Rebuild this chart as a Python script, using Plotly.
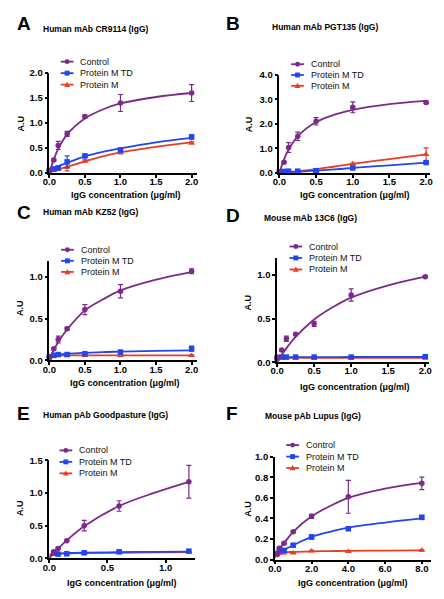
import plotly.graph_objects as go

W, H = 444, 599

# ---------------- data ----------------
# Panel A: Human mAb CR9114 (IgG)
x_A = [0, 0.0625, 0.125, 0.25, 0.5, 1.0, 2.0]
ctrl_A = [0.05, 0.26, 0.55, 0.78, 1.13, 1.40, 1.60]
ctrl_err_A = [0.02, 0.02, 0.08, 0.05, 0.03, 0.17, 0.17]
td_A = [0.05, 0.08, 0.10, 0.22, 0.34, 0.46, 0.72]
td_err_A = [0.01, 0.01, 0.02, 0.12, 0.03, 0.03, 0.04]
m_A = [0.04, 0.05, 0.07, 0.12, 0.24, 0.41, 0.60]
m_err_A = [0.01, 0.01, 0.01, 0.08, 0.02, 0.03, 0.02]
fit_x_A = [0, 0.0625, 0.125, 0.25, 0.5, 0.75, 1.0, 1.5, 2.0]
fit_ctrl_A = [0.0, 0.27, 0.48, 0.77, 1.09, 1.27, 1.39, 1.52, 1.60]
fit_td_A = [0.05, 0.09, 0.13, 0.20, 0.33, 0.42, 0.49, 0.61, 0.70]
fit_m_A = [0.03, 0.05, 0.07, 0.12, 0.23, 0.33, 0.41, 0.52, 0.61]

# Panel B: Human mAb PGT135 (IgG)
x_B = [0, 0.0625, 0.125, 0.25, 0.5, 1.0, 2.0]
ctrl_B = [0.05, 0.43, 1.03, 1.49, 2.10, 2.67, 2.87]
ctrl_err_B = [0.02, 0.03, 0.20, 0.17, 0.15, 0.22, 0.05]
td_B = [0.05, 0.06, 0.07, 0.07, 0.09, 0.20, 0.42]
td_err_B = [0.01, 0.01, 0.01, 0.01, 0.01, 0.02, 0.03]
m_B = [0.03, 0.03, 0.04, 0.05, 0.08, 0.37, 0.75]
m_err_B = [0.01, 0.01, 0.01, 0.01, 0.01, 0.03, 0.27]
fit_x_B = [0, 0.0625, 0.125, 0.25, 0.5, 0.75, 1.0, 1.5, 2.0]
fit_ctrl_B = [0.0, 0.55, 0.95, 1.49, 2.07, 2.37, 2.57, 2.80, 2.93]
fit_td_B = [0.03, 0.035, 0.04, 0.05, 0.09, 0.14, 0.20, 0.31, 0.42]
fit_m_B = [0.02, 0.03, 0.04, 0.07, 0.15, 0.26, 0.37, 0.56, 0.75]

# Panel C: Human mAb KZ52 (IgG)
x_C = [0, 0.0625, 0.125, 0.25, 0.5, 1.0, 2.0]
ctrl_C = [0.04, 0.14, 0.25, 0.38, 0.61, 0.83, 1.07]
ctrl_err_C = [0.01, 0.01, 0.04, 0.02, 0.06, 0.08, 0.03]
td_C = [0.04, 0.06, 0.07, 0.07, 0.08, 0.10, 0.14]
td_err_C = [0.01, 0.01, 0.01, 0.01, 0.01, 0.01, 0.03]
m_C = [0.05, 0.06, 0.06, 0.06, 0.06, 0.06, 0.06]
m_err_C = [0.005, 0.005, 0.005, 0.005, 0.005, 0.005, 0.005]
fit_x_C = [0, 0.0625, 0.125, 0.25, 0.5, 0.75, 1.0, 1.5, 2.0]
fit_ctrl_C = [0.02, 0.12, 0.22, 0.37, 0.60, 0.73, 0.84, 0.97, 1.06]
fit_td_C = [0.03, 0.05, 0.065, 0.08, 0.09, 0.10, 0.105, 0.115, 0.12]
fit_m_C = [0.055, 0.06, 0.06, 0.06, 0.06, 0.06, 0.06, 0.06, 0.06]

# Panel D: Mouse mAb 13C6 (IgG)
x_D = [0, 0.0625, 0.125, 0.25, 0.5, 1.0, 2.0]
ctrl_D = [0.06, 0.14, 0.27, 0.32, 0.44, 0.77, 0.98]
ctrl_err_D = [0.01, 0.01, 0.03, 0.01, 0.03, 0.07, 0.01]
td_D = [0.05, 0.06, 0.06, 0.06, 0.06, 0.06, 0.065]
td_err_D = [0.005, 0.005, 0.005, 0.005, 0.005, 0.005, 0.01]
m_D = [0.05, 0.05, 0.05, 0.05, 0.05, 0.05, 0.05]
m_err_D = [0.005, 0.005, 0.005, 0.005, 0.005, 0.005, 0.005]
fit_x_D = [0, 0.0625, 0.125, 0.25, 0.5, 0.75, 1.0, 1.5, 2.0]
fit_ctrl_D = [0.0, 0.085, 0.16, 0.29, 0.49, 0.63, 0.74, 0.88, 0.98]
fit_td_D = [0.05, 0.055, 0.058, 0.06, 0.06, 0.06, 0.061, 0.062, 0.063]
fit_m_D = [0.05, 0.05, 0.05, 0.05, 0.05, 0.05, 0.05, 0.05, 0.05]

# Panel E: Human pAb Goodpasture (IgG)
x_E = [0.0375, 0.075, 0.15, 0.3, 0.6, 1.2]
ctrl_E = [0.10, 0.15, 0.27, 0.50, 0.80, 1.17]
ctrl_err_E = [0.02, 0.01, 0.01, 0.08, 0.08, 0.25]
td_E = [0.08, 0.065, 0.07, 0.085, 0.10, 0.11]
td_err_E = [0.02, 0.01, 0.01, 0.01, 0.01, 0.02]
m_E = [0.07, 0.07, 0.075, 0.08, 0.09, 0.10]
m_err_E = [0.005, 0.005, 0.005, 0.005, 0.005, 0.005]
fit_x_E = [0, 0.0375, 0.075, 0.15, 0.3, 0.6, 0.9, 1.2]
fit_ctrl_E = [0.0, 0.08, 0.15, 0.275, 0.49, 0.80, 1.00, 1.17]
fit_td_E = [0.03, 0.065, 0.075, 0.082, 0.088, 0.095, 0.10, 0.102]
fit_m_E = [0.06, 0.065, 0.07, 0.075, 0.08, 0.085, 0.09, 0.095]

# Panel F: Mouse pAb Lupus (IgG)
x_F = [0.125, 0.25, 0.5, 1, 2, 4, 8]
ctrl_F = [0.05, 0.11, 0.16, 0.27, 0.42, 0.61, 0.74]
ctrl_err_F = [0.01, 0.01, 0.01, 0.01, 0.02, 0.16, 0.06]
td_F = [0.06, 0.10, 0.09, 0.14, 0.22, 0.30, 0.41]
td_err_F = [0.01, 0.01, 0.01, 0.01, 0.02, 0.01, 0.02]
m_F = [0.06, 0.06, 0.065, 0.065, 0.085, 0.08, 0.09]
m_err_F = [0.005, 0.005, 0.005, 0.005, 0.005, 0.005, 0.005]
fit_x_F = [0, 0.25, 0.5, 1, 2, 3, 4, 6, 8]
fit_ctrl_F = [0.02, 0.10, 0.16, 0.27, 0.42, 0.52, 0.60, 0.69, 0.745]
fit_td_F = [0.04, 0.07, 0.095, 0.14, 0.22, 0.27, 0.31, 0.36, 0.40]
fit_m_F = [0.05, 0.06, 0.07, 0.075, 0.08, 0.083, 0.085, 0.088, 0.09]

series_names = ["Control", "Protein M TD", "Protein M"]
panel_letters = ["A", "B", "C", "D", "E", "F"]
panel_titles = ["Human mAb CR9114 (IgG)", "Human mAb PGT135 (IgG)",
                "Human mAb KZ52 (IgG)", "Mouse mAb 13C6 (IgG)",
                "Human pAb Goodpasture (IgG)", "Mouse pAb Lupus (IgG)"]
x_title = "IgG concentration (\u03bcg/ml)"
y_title = "A.U"

# ---------------- styling ----------------
C_CTRL = "#7B2A8A"
C_TD = "#1F46F0"
C_M = "#EB3B24"
ARIAL = "Liberation Sans, Arial, sans-serif"

panels = [
    dict(x=x_A, s=[(ctrl_A, ctrl_err_A), (td_A, td_err_A), (m_A, m_err_A)],
         fx=fit_x_A, fs=[fit_ctrl_A, fit_td_A, fit_m_A],
         dom_x=(43.3, 194.7), dom_y=(68.3, 170), xr=[0, 2.08], yr=[0, 2.0],
         xt=[0, 0.5, 1.0, 1.5, 2.0], yt=[0, 0.5, 1.0, 1.5, 2.0],
         letter=(8, 18), title=(35, 23), leg=(73, 56.7, 11.7),
         xtit=(121.7, 193), ytit=(14, 120)),
    dict(x=x_B, s=[(ctrl_B, ctrl_err_B), (td_B, td_err_B), (m_B, m_err_B)],
         fx=fit_x_B, fs=[fit_ctrl_B, fit_td_B, fit_m_B],
         dom_x=(278.7, 432.5), dom_y=(70, 170), xr=[0, 2.05], yr=[0, 4.0],
         xt=[0, 0.5, 1.0, 1.5, 2.0], yt=[0, 1, 2, 3, 4],
         letter=(222, 18), title=(269, 21), leg=(308.7, 59.3, 11),
         xtit=(356, 193), ytit=(247, 120)),
    dict(x=x_C, s=[(ctrl_C, ctrl_err_C), (td_C, td_err_C), (m_C, m_err_C)],
         fx=fit_x_C, fs=[fit_ctrl_C, fit_td_C, fit_m_C],
         dom_x=(43.3, 194.7), dom_y=(260, 361), xr=[0, 2.08], yr=[0, 1.19],
         xt=[0, 0.5, 1.0, 1.5, 2.0], yt=[0, 0.5, 1.0],
         letter=(8, 210), title=(35, 210), leg=(73.3, 248.3, 11.3),
         xtit=(120.7, 383.7), ytit=(14, 308)),
    dict(x=x_D, s=[(ctrl_D, ctrl_err_D), (td_D, td_err_D), (m_D, m_err_D)],
         fx=fit_x_D, fs=[fit_ctrl_D, fit_td_D, fit_m_D],
         dom_x=(276.3, 431.7), dom_y=(257, 363), xr=[0, 2.05], yr=[0, 1.19],
         xt=[0, 0.5, 1.0, 1.5, 2.0], yt=[0, 0.5, 1.0],
         letter=(222, 213), title=(261, 215.7), leg=(307, 245, 11.7),
         xtit=(356, 387.7), ytit=(247, 301.7)),
    dict(x=x_E, s=[(ctrl_E, ctrl_err_E), (td_E, td_err_E), (m_E, m_err_E)],
         fx=fit_x_E, fs=[fit_ctrl_E, fit_td_E, fit_m_E],
         dom_x=(43.3, 192), dom_y=(462.7, 562.7), xr=[0, 1.25], yr=[0, 1.5],
         xt=[0, 0.5, 1.0], yt=[0, 0.5, 1.0, 1.5],
         letter=(8, 415), title=(35, 416.7), leg=(71.7, 452.7, 11.7),
         xtit=(117.5, 587.3), ytit=(14, 511.7)),
    dict(x=x_F, s=[(ctrl_F, ctrl_err_F), (td_F, td_err_F), (m_F, m_err_F)],
         fx=fit_x_F, fs=[fit_ctrl_F, fit_td_F, fit_m_F],
         dom_x=(274, 433.8), dom_y=(459, 564), xr=[0, 8.5], yr=[0, 1.0],
         xt=[0, 2, 4, 6, 8], yt=[0, 0.2, 0.4, 0.6, 0.8, 1.0],
         letter=(222, 415), title=(262, 417.7), leg=(303.7, 447.3, 11.7),
         xtit=(353.7, 587.3), ytit=(247, 511.7)),
]

colors = [C_CTRL, C_TD, C_M]
symbols = ["circle", "square", "triangle-up"]


def px(xp):
    return xp / W


def py(yp):
    return 1 - yp / H


fig = go.Figure()
layout = dict(width=W, height=H, margin=dict(l=0, r=0, t=0, b=0),
              paper_bgcolor="white", plot_bgcolor="white", showlegend=False)
annotations = []
shapes = []

for i, p in enumerate(panels):
    n = "" if i == 0 else str(i + 1)
    xa, ya = "x" + n, "y" + n
    # draw order: Protein M, TD, Control (control on top)
    for k in [2, 1, 0]:
        col = colors[k]
        fig.add_trace(go.Scatter(
            x=p["fx"], y=p["fs"][k], xaxis=xa, yaxis=ya, mode="lines",
            line=dict(color=col, width=1.8, shape="spline", smoothing=1.0),
            hoverinfo="skip", name=series_names[k]))
        vals, errs = p["s"][k]
        fig.add_trace(go.Scatter(
            x=p["x"], y=vals, xaxis=xa, yaxis=ya, mode="markers",
            marker=dict(color=col, size=5.5 if k != 2 else 6, symbol=symbols[k]),
            error_y=dict(type="data", array=errs, visible=True, color=col,
                         thickness=1.2, width=2.5),
            name=series_names[k], cliponaxis=False))
    common = dict(showline=True, linecolor="black", linewidth=1.5,
                  ticks="outside", ticklen=3, tickwidth=1.5, tickcolor="black",
                  showgrid=False, zeroline=False, tickformat=".1f",
                  tickfont=dict(family=ARIAL, size=9.5, color="black", weight="bold"),
                  fixedrange=True)
    layout["xaxis" + n] = dict(common, domain=[px(p["dom_x"][0]), px(p["dom_x"][1])],
                               range=p["xr"], tickvals=p["xt"], anchor=ya,
                               ticklabelstandoff=-4)
    layout["yaxis" + n] = dict(common, domain=[py(p["dom_y"][1]), py(p["dom_y"][0])],
                               range=p["yr"], tickvals=p["yt"], anchor=xa,
                               ticklabelstandoff=0)
    # panel letter
    annotations.append(dict(text=panel_letters[i], x=px(p["letter"][0]), y=py(p["letter"][1]),
                            xref="paper", yref="paper", xanchor="left", yanchor="middle",
                            showarrow=False,
                            font=dict(family=ARIAL, size=19, color="black", weight="bold")))
    # panel title
    annotations.append(dict(text=panel_titles[i], x=px(p["title"][0]), y=py(p["title"][1]),
                            xref="paper", yref="paper", xanchor="left", yanchor="middle",
                            showarrow=False,
                            font=dict(family=ARIAL, size=8.5, color="black", weight="bold")))
    # axis titles
    annotations.append(dict(text=x_title, x=px(p["xtit"][0]), y=py(p["xtit"][1]),
                            xref="paper", yref="paper", xanchor="center", yanchor="middle",
                            showarrow=False,
                            font=dict(family=ARIAL, size=9, color="black", weight="bold")))
    annotations.append(dict(text=y_title, x=px(p["ytit"][0]), y=py(p["ytit"][1]),
                            xref="paper", yref="paper", xanchor="center", yanchor="middle",
                            showarrow=False, textangle=-90,
                            font=dict(family=ARIAL, size=9, color="black", weight="bold")))
    # compact legend (key line + marker + label)
    tx, ty0, dy = p["leg"]
    for k in range(3):
        yc = ty0 + k * dy
        col = colors[k]
        x0, x1 = tx - 18, tx - 5
        cx = (x0 + x1) / 2
        shapes.append(dict(type="line", xref="paper", yref="paper",
                           x0=px(x0), x1=px(x1), y0=py(yc), y1=py(yc),
                           line=dict(color=col, width=1.8)))
        r = 2.5
        if k == 0:
            shapes.append(dict(type="circle", xref="paper", yref="paper",
                               x0=px(cx - r), x1=px(cx + r), y0=py(yc + r), y1=py(yc - r),
                               fillcolor=col, line=dict(width=0)))
        elif k == 1:
            shapes.append(dict(type="rect", xref="paper", yref="paper",
                               x0=px(cx - r), x1=px(cx + r), y0=py(yc + r), y1=py(yc - r),
                               fillcolor=col, line=dict(width=0)))
        else:
            path = "M {:.5f},{:.5f} L {:.5f},{:.5f} L {:.5f},{:.5f} Z".format(
                px(cx - 3), py(yc + 2.3), px(cx + 3), py(yc + 2.3), px(cx), py(yc - 3))
            shapes.append(dict(type="path", xref="paper", yref="paper", path=path,
                               fillcolor=col, line=dict(width=0)))
        annotations.append(dict(text=series_names[k], x=px(tx), y=py(yc),
                                xref="paper", yref="paper", xanchor="left", yanchor="middle",
                                showarrow=False,
                                font=dict(family=ARIAL, size=9, color="#111111")))

layout["annotations"] = annotations
layout["shapes"] = shapes
fig.update_layout(**layout)
fig.write_html("out.html", config={"responsive": False, "displayModeBar": False},
               post_script="document.body.style.margin='0';document.body.style.overflow='hidden';")
